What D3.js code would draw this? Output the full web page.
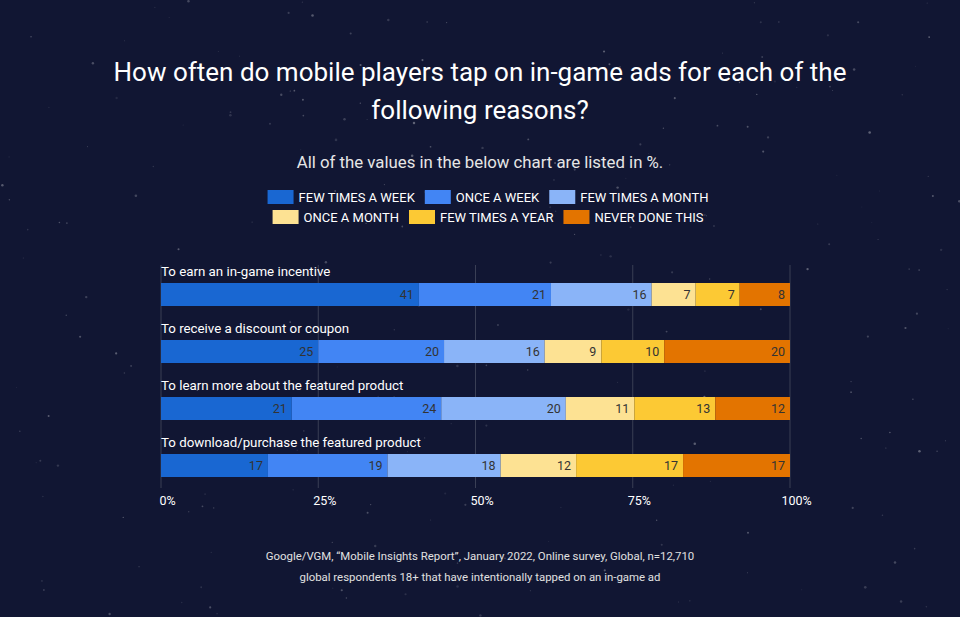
<!DOCTYPE html>
<html>
<head>
<meta charset="utf-8">
<script src="https://cdn.jsdelivr.net/npm/d3@7"></script>
<style>
  html, body { margin: 0; padding: 0; background: #111633; }
  svg { display: block; font-family: Roboto, "Open Sans", sans-serif; }
</style>
</head>
<body>
<svg id="chart"></svg>
<script>
const categories = [
  "To earn an in-game incentive",
  "To receive a discount or coupon",
  "To learn more about the featured product",
  "To download/purchase the featured product"
];
const seriesNames = ["FEW TIMES A WEEK", "ONCE A WEEK", "FEW TIMES A MONTH", "ONCE A MONTH", "FEW TIMES A YEAR", "NEVER DONE THIS"];
const fewTimesWeek  = [41, 25, 21, 17];
const onceWeek      = [21, 20, 24, 19];
const fewTimesMonth = [16, 16, 20, 18];
const onceMonth     = [7, 9, 11, 12];
const fewTimesYear  = [7, 10, 13, 17];
const neverDone     = [8, 20, 12, 17];
const tickValues = [0, 0.25, 0.5, 0.75, 1];
const colors = ["#1967d2", "#4285f4", "#8ab4f8", "#fde293", "#fcc934", "#e37400"];

const width = 960;
const height = 617;

const svg = d3.select("#chart")
    .attr("width", width)
    .attr("height", height);

svg.append("rect").attr("width", width).attr("height", height).attr("fill", "#111633");

// background stars (decoration only)
const rnd = d3.randomLcg(0.42);
const stars = svg.append("g");
for (let i = 0; i < 260; i++) {
  stars.append("circle")
    .attr("cx", rnd() * width)
    .attr("cy", rnd() * height)
    .attr("r", 0.4 + rnd() * 0.9)
    .attr("fill", "#ffffff")
    .attr("opacity", 0.08 + rnd() * 0.25);
}

// title
const title = svg.append("text")
    .attr("text-anchor", "middle")
    .attr("fill", "#ffffff")
    .style("font-size", "26px");
title.append("tspan").attr("x", width / 2).attr("y", 81).text("How often do mobile players tap on in-game ads for each of the");
title.append("tspan").attr("x", width / 2).attr("y", 119).text("following reasons?");

svg.append("text")
    .attr("x", width / 2).attr("y", 168)
    .attr("text-anchor", "middle")
    .attr("fill", "#e6e6e6")
    .style("font-size", "16.8px")
    .text("All of the values in the below chart are listed in %.");

// legend
const legendRows = [[0, 1, 2], [3, 4, 5]];
legendRows.forEach((row, r) => {
  const g = svg.append("g");
  let x = 0;
  row.forEach(i => {
    g.append("rect").attr("x", x).attr("y", -7).attr("width", 26).attr("height", 14)
      .attr("fill", colors[i]);
    const t = g.append("text").attr("x", x + 31).attr("y", 5)
      .attr("fill", "#ffffff").style("font-size", "13px").text(seriesNames[i]);
    x += 31 + t.node().getComputedTextLength() + 10;
  });
  x -= 10;
  g.attr("transform", `translate(${(width - x) / 2 + 8},${197 + r * 20})`);
});

// chart
const left = 161, right = 790;
const rowTop = 283, rowStep = 57, barH = 23;
const series = [fewTimesWeek, onceWeek, fewTimesMonth, onceMonth, fewTimesYear, neverDone];
const table = categories.map((c, j) => {
  const o = { category: c };
  seriesNames.forEach((s, i) => { o[s] = series[i][j]; });
  return o;
});

const stacked = d3.stack().keys(seriesNames).offset(d3.stackOffsetExpand)(table);

const xScale = d3.scaleLinear().domain([0, 1]).range([left, right]);
const yScale = d3.scalePoint().domain(categories).range([rowTop, rowTop + rowStep * 3]);

// gridlines
svg.append("g")
  .selectAll("line")
  .data(tickValues)
  .enter()
  .append("line")
  .attr("x1", d => xScale(d)).attr("x2", d => xScale(d))
  .attr("y1", 265).attr("y2", 488)
  .attr("stroke", "#3a3f55")
  .attr("stroke-width", 1);

// category labels
svg.append("g")
  .selectAll("text")
  .data(categories)
  .enter()
  .append("text")
  .attr("x", left)
  .attr("y", d => yScale(d) - 7)
  .attr("fill", "#ffffff")
  .style("font-size", "13.3px")
  .text(d => d);

// bars
const layers = svg.append("g")
  .selectAll("g")
  .data(stacked)
  .enter()
  .append("g")
  .attr("fill", (d, i) => colors[i]);

layers.selectAll("rect")
  .data(d => d)
  .enter()
  .append("rect")
  .attr("x", d => xScale(d[0]))
  .attr("y", d => yScale(d.data.category))
  .attr("width", d => xScale(d[1]) - xScale(d[0]))
  .attr("height", barH);

// value labels
layers.selectAll("text")
  .data(d => d.map(p => ({ p, key: d.key })))
  .enter()
  .append("text")
  .attr("x", d => xScale(d.p[1]) - 5)
  .attr("y", d => yScale(d.p.data.category) + barH / 2 + 4.5)
  .attr("text-anchor", "end")
  .attr("fill", "#333333")
  .style("font-size", "12.5px")
  .text(d => d.p.data[d.key]);

// x axis
const axis = svg.append("g")
  .attr("transform", `translate(6,${488})`)
  .call(d3.axisBottom(xScale).tickValues(tickValues).tickFormat(d3.format(".0%")).tickSize(0).tickPadding(8));
axis.select(".domain").remove();
axis.selectAll("text")
  .attr("fill", "#ffffff")
  .style("font-size", "12.5px")
  .style("font-family", "Roboto, 'Open Sans', sans-serif");

// source
const src = svg.append("text")
    .attr("text-anchor", "middle")
    .attr("fill", "#e0e0e0")
    .style("font-size", "11.4px");
src.append("tspan").attr("x", width / 2).attr("y", 560).text("Google/VGM, \u201cMobile Insights Report\u201d, January 2022, Online survey, Global, n=12,710");
src.append("tspan").attr("x", width / 2).attr("y", 581).text("global respondents 18+ that have intentionally tapped on an in-game ad");
</script>
</body>
</html>
